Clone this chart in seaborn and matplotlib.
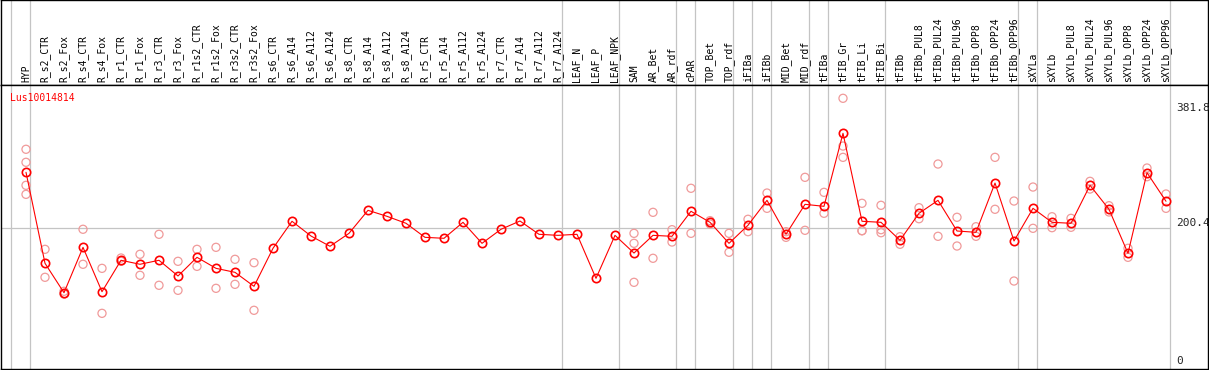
import numpy as np
import pandas as pd
import matplotlib
matplotlib.use("Agg")
import matplotlib.pyplot as plt
import matplotlib.transforms as mtransforms
import seaborn as sns

# ==========================
# 1. Dados
# ==========================
gene = "Lus10014814"

samples = [
    "HYP", "R_s2_CTR", "R_s2_Fox", "R_s4_CTR", "R_s4_Fox", "R_r1_CTR", "R_r1_Fox",
    "R_r3_CTR", "R_r3_Fox", "R_r1s2_CTR", "R_r1s2_Fox", "R_r3s2_CTR", "R_r3s2_Fox",
    "R_s6_CTR", "R_s6_A14", "R_s6_A112", "R_s6_A124", "R_s8_CTR", "R_s8_A14",
    "R_s8_A112", "R_s8_A124", "R_r5_CTR", "R_r5_A14", "R_r5_A112", "R_r5_A124",
    "R_r7_CTR", "R_r7_A14", "R_r7_A112", "R_r7_A124", "LEAF_N", "LEAF_P", "LEAF_NPK",
    "SAM", "AR_Bet", "AR_rdf", "cPAR", "TOP_Bet", "TOP_rdf", "iFIBa", "iFIBb",
    "MID_Bet", "MID_rdf", "tFIBa", "tFIB_Gr", "tFIB_Li", "tFIB_Bi", "tFIBb",
    "tFIBb_PUL8", "tFIBb_PUL24", "tFIBb_PUL96", "tFIBb_OPP8", "tFIBb_OPP24",
    "tFIBb_OPP96", "sXYLa", "sXYLb", "sXYLb_PUL8", "sXYLb_PUL24", "sXYLb_PUL96",
    "sXYLb_OPP8", "sXYLb_OPP24", "sXYLb_OPP96",
]

mean_expr = [
    281.7, 149.6, 106.9, 172.8, 108.4, 154.0, 148.2, 154.0, 131.2, 158.3, 142.3,
    136.5, 116.2, 171.4, 210.6, 189.2, 174.3, 193.1, 226.5, 217.8, 207.7, 187.3,
    185.9, 209.1, 178.6, 199.0, 211.0, 191.7, 190.2, 191.7, 127.8, 190.2, 164.5,
    190.2, 188.8, 225.1, 209.1, 178.6, 204.8, 241.0, 191.7, 235.2, 232.3, 338.3,
    210.6, 209.1, 183.0, 222.2, 241.0, 196.5, 194.6, 266.1, 182.0, 229.4, 209.1,
    207.7, 262.8, 228.0, 164.1, 281.1, 239.6,
]

replicates = [
    [315.1, 296.2, 262.8, 249.7], [169.9, 129.3], [105.0, 109.0], [199.0, 148.2],
    [142.3, 77.0], [157.3, 152.5], [162.7, 132.2], [191.7, 117.7], [152.5, 110.4],
    [169.9, 145.2], [172.8, 113.3], [155.4, 119.1], [150.5, 81.4],
    [], [], [], [], [], [], [], [], [], [], [], [], [], [], [], [], [], [], [],
    [193.1, 178.6, 122.0], [223.6, 156.9], [198.4, 180.5], [258.5, 193.1],
    [211.5, 206.7], [193.1, 165.6], [213.5, 195.5], [251.6, 229.4], [195.5, 187.3],
    [274.4, 197.5], [252.6, 222.2], [389.1, 319.8, 303.4], [236.7, 196.9, 196.9],
    [233.8, 198.4, 194.0], [188.2, 177.2], [230.3, 214.3], [293.7, 188.8],
    [216.4, 174.7], [202.7, 188.8], [303.4, 228.0], [240.0, 123.9], [260.3, 200.4],
    [217.2, 201.3], [214.9, 201.9], [268.6, 257.4], [233.2, 224.1], [171.4, 158.3],
    [287.9, 275.3], [250.2, 229.4],
]

# amostras após as quais há uma linha divisória (-1 = antes da primeira)
group_ends = [-1, 0, 28, 31, 34, 35, 37, 38, 39, 41, 42, 45, 52, 53, 60]

scale_ticks = [0, 200.4, 381.8]

# ==========================
# 2. DataFrames
# ==========================
df = pd.DataFrame({"pos": np.arange(len(samples)), "sample": samples, "mean": mean_expr})
rep = pd.DataFrame(
    [(i, v) for i, vals in enumerate(replicates) for v in vals],
    columns=["pos", "value"],
)

# ==========================
# 3. Figura
# ==========================
sns.set_theme(style="white")
plt.rcParams["font.family"] = ["DejaVu Sans Mono", "DejaVu Sans"]

W, H = 1209, 370
fig = plt.figure(figsize=(W / 100, H / 100), dpi=100)
ax_head = fig.add_axes([1 / W, (H - 85) / H, 1207 / W, 85 / H])
ax = fig.add_axes([1 / W, 1 / H, 1207 / W, 284 / H], sharex=ax_head)

red = "#ff0000"
pink = "#f09a9a"
grid = "#c4c4c4"

# linhas divisórias
for a in (ax_head, ax):
    for g in group_ends:
        a.axvline(g + 0.22, color=grid, lw=0.9, zorder=0)
    for s in a.spines.values():
        s.set_visible(True)
        s.set_color("black")
        s.set_linewidth(1.0)
    a.set_xticks([])
    a.set_yticks([])

ax.axhline(scale_ticks[1], xmax=(1170 - 1) / 1207, color=grid, lw=0.9, zorder=0)

# réplicas
sns.scatterplot(
    data=rep, x="pos", y="value", ax=ax,
    marker="o", s=34, facecolor="none", edgecolor=pink, linewidth=0.9, zorder=2,
)

# média
sns.lineplot(
    data=df, x="pos", y="mean", ax=ax,
    color=red, lw=0.8, marker="o", markersize=6.0,
    markerfacecolor="none", markeredgecolor=red, markeredgewidth=1.2, zorder=3,
)

ax.set_xlim(-25 / 19, 1182 / 19)
ax.set_ylim(-3.8, 408.4)
ax_head.set_ylim(0, 1)
ax.set_xlabel("")
ax.set_ylabel("")

# rótulos das amostras (cabeçalho)
trans_h = mtransforms.blended_transform_factory(ax_head.transData, ax_head.transAxes)
for i, name in enumerate(samples):
    ax_head.text(i, 0.03, name, rotation=90, ha="center", va="bottom",
                 fontsize=7, color="black", transform=trans_h)

# escala à direita
trans_r = mtransforms.blended_transform_factory(ax.transAxes, ax.transData)
xr = (1176 - 1) / 1207
ax.text(xr, scale_ticks[2], "381.8", ha="left", va="top", fontsize=8, transform=trans_r)
ax.text(xr, scale_ticks[1], "200.4", ha="left", va="bottom", fontsize=8, transform=trans_r)
ax.text(xr, scale_ticks[0], "0", ha="left", va="bottom", fontsize=8, transform=trans_r)

# nome do gene
ax.text(9 / 1207, (369 - 97.7) / 284, gene, color=red, fontsize=7,
        ha="left", va="center", transform=ax.transAxes)

fig.savefig("out.png", dpi=100)
plt.close(fig)
